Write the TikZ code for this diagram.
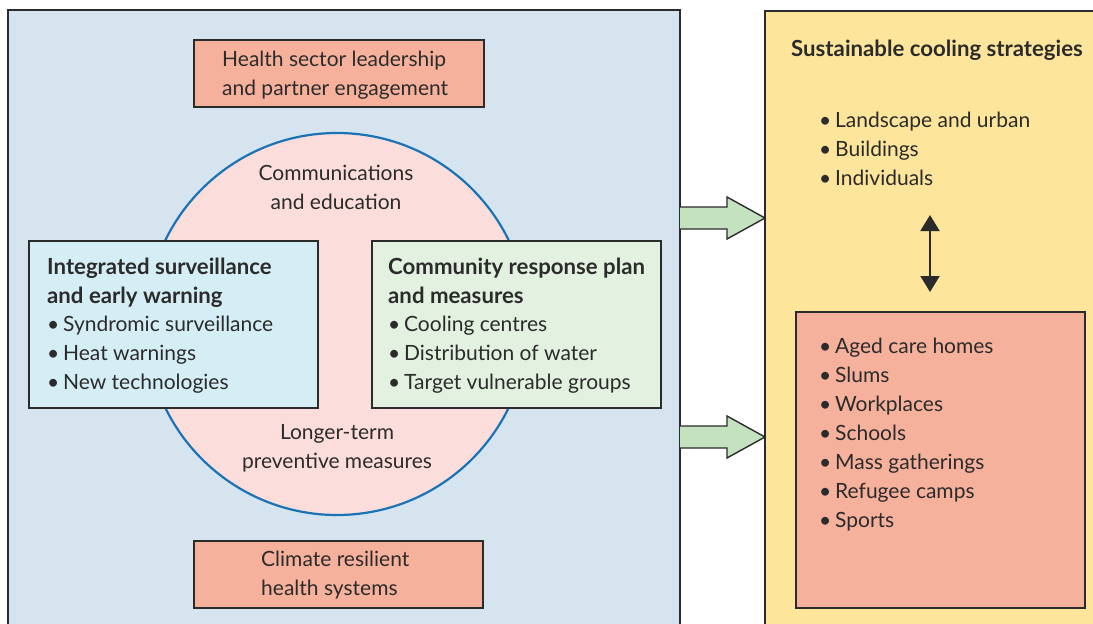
\documentclass[tikz,border=0pt]{standalone}
\usepackage{fontspec}
\setmainfont{Lato}
\usetikzlibrary{arrows.meta}
\definecolor{panelblue}{HTML}{D6E4F0}
\definecolor{panelyellow}{HTML}{FDE59B}
\definecolor{salmon}{HTML}{F6B19C}
\definecolor{circpink}{HTML}{FBDEDB}
\definecolor{circblue}{HTML}{1A73B5}
\definecolor{survcyan}{HTML}{D5EEF6}
\definecolor{commgreen}{HTML}{E3F1E0}
\definecolor{arrowgreen}{HTML}{C4E2C0}
\definecolor{ink}{HTML}{2B2B2B}
\newcommand{\bul}{\textbullet\hspace{0.18em}}
\tikzset{
  panel/.style={draw=ink, line width=1.6pt},
  box/.style={draw=ink, line width=1.6pt, inner sep=0pt, anchor=north west},
  txt/.style={text=ink, anchor=mid west, inner sep=0pt, yshift=-4pt},
  ctxt/.style={text=ink, anchor=mid, inner sep=0pt, yshift=-4pt},
  btxt/.style={text=ink, anchor=mid west, inner sep=0pt, yshift=-4pt, font=\fontsize{22.2}{26}\selectfont\bfseries},
  blockarrow/.style={draw=ink, line width=1.4pt, fill=arrowgreen, line join=miter},
}
\begin{document}
\begin{tikzpicture}[x=1pt,y=-1pt, font=\fontsize{21}{25}\selectfont]
\useasboundingbox (0,0) rectangle (1093,624);
\fill[white] (0,0) rectangle (1093,624);
% panels
\fill[panelblue] (8,10) rectangle (680,640);
\draw[panel] (8,640) -- (8,10) -- (680,10) -- (680,640);
\fill[panelyellow] (765,11) rectangle (1100,640);
\draw[panel] (765,640) -- (765,11) -- (1100,11);
% top and bottom boxes
\node[box, fill=salmon, minimum width=290pt, minimum height=67pt] (lead) at (193,39) {};
\node[txt] (lead1) at (222,60) {Health sector leadership};
\node[txt] (lead2) at (222,89) {and partner engagement};
\node[box, fill=salmon, minimum width=289pt, minimum height=67pt] (clim) at (193,540) {};
\node[txt] (clim1) at (261,560) {Climate resilient};
\node[txt] (clim2) at (261,589) {health systems};
% circle
\node[circle, draw=circblue, fill=circpink, line width=2.2pt, minimum size=382pt, inner sep=0pt] (circ) at (337,324) {};
\node[ctxt] (comm1) at (336,174) {Communications};
\node[ctxt] (comm2) at (336,203) {and education};
\node[ctxt] (long1) at (337,433) {Longer-term};
\node[ctxt] (long2) at (337,462) {preventive measures};
% surveillance box
\node[box, fill=survcyan, minimum width=289pt, minimum height=167pt] (surv) at (28,240) {};
\node[btxt] (surv1) at (47,268) {Integrated surveillance};
\node[btxt] (surv2) at (47,297) {and early warning};
\node[txt] (surv3) at (47,325) {\bul Syndromic surveillance};
\node[txt] (surv4) at (47,354) {\bul Heat warnings};
\node[txt] (surv5) at (47,383) {\bul New technologies};
% community box
\node[box, fill=commgreen, minimum width=289pt, minimum height=167pt] (resp) at (371,240) {};
\node[btxt] (resp1) at (388,268) {Community response plan};
\node[btxt] (resp2) at (388,297) {and measures};
\node[txt] (resp3) at (388,325) {\bul Cooling centres};
\node[txt] (resp4) at (388,354) {\bul Distribution of water};
\node[txt] (resp5) at (388,383) {\bul Target vulnerable groups};
% block arrows
\foreach \yc in {218,437}{
  \draw[blockarrow] (680,\yc-11) -- (727,\yc-11) -- (727,\yc-21) -- (765,\yc) -- (727,\yc+21) -- (727,\yc+11) -- (680,\yc+11);
}
% right panel content
\node[btxt] (cool) at (791,50) {Sustainable cooling strategies};
\node[txt] (cool1) at (819,121) {\bul Landscape and urban};
\node[txt] (cool2) at (819,150) {\bul Buildings};
\node[txt] (cool3) at (819,179) {\bul Individuals};
\node[box, fill=salmon, minimum width=289pt, minimum height=296pt] (sett) at (795,311) {};
\node[txt] (s1) at (819,347) {\bul Aged care homes};
\node[txt] (s2) at (819,376) {\bul Slums};
\node[txt] (s3) at (819,405) {\bul Workplaces};
\node[txt] (s4) at (819,434) {\bul Schools};
\node[txt] (s5) at (819,463) {\bul Mass gatherings};
\node[txt] (s6) at (819,492) {\bul Refugee camps};
\node[txt] (s7) at (819,521) {\bul Sports};
\coordinate (datop) at (930,215);
\coordinate (dabot) at (930,292);
\draw[ink, line width=2pt, {Triangle[length=16pt,width=19pt]}-{Triangle[length=16pt,width=19pt]}] (datop) -- (dabot);
\end{tikzpicture}
\end{document}
